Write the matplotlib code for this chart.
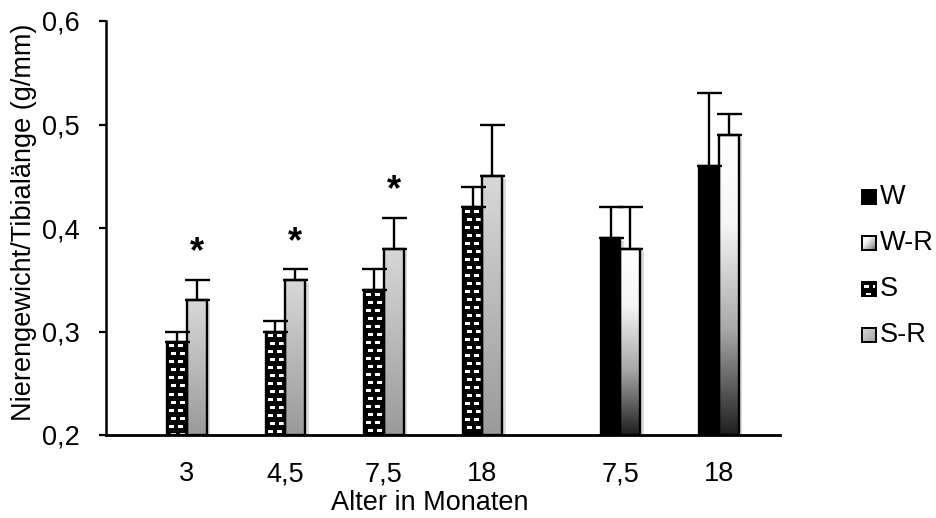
import numpy as np
import matplotlib
matplotlib.use("Agg")
import matplotlib.pyplot as plt
from matplotlib.patches import Rectangle
from matplotlib.colors import LinearSegmentedColormap
import matplotlib.patheffects as pe

plt.rcParams['font.family'] = ['Liberation Sans', 'DejaVu Sans']

# Data
categories = ['3', '4,5', '7,5', '18', '7,5', '18']
cat_pos = [0, 1, 2, 3, 4.4, 5.4]
series_names = ['W', 'W-R', 'S', 'S-R']

# S / S-R groups (first four categories)
S_vals = [0.29, 0.30, 0.34, 0.42]
S_err = [0.01, 0.01, 0.02, 0.02]
SR_vals = [0.33, 0.35, 0.38, 0.45]
SR_err = [0.02, 0.01, 0.03, 0.05]
SR_sig = ['*', '*', '*', '']

# W / W-R groups (last two categories)
W_vals = [0.39, 0.46]
W_err = [0.03, 0.07]
WR_vals = [0.38, 0.49]
WR_err = [0.04, 0.02]

FS = 19.5

W_, H_ = 937, 518
fig = plt.figure(figsize=(W_ / 100, H_ / 100), dpi=100)
ax = fig.add_axes([106 / W_, 1 - 435 / H_, (780 - 106) / W_, (435 - 21) / H_])

YMIN, YMAX = 0.2, 0.6
ax.set_ylim(YMIN, YMAX)
ax.set_xlim(-0.82, 6.02)

BW = 0.2

cmap_wr = LinearSegmentedColormap.from_list(
    'wr', [(0, '#ffffff'), (0.3, '#f6f6f6'), (0.65, '#a8a8a8'), (1, '#1e1e1e')])
cmap_sr = LinearSegmentedColormap.from_list(
    'sr', [(0, '#d8d8d8'), (1, '#9a9a9a')])


def px_size(x0, x1, y0, y1):
    p0 = ax.transData.transform((x0, y0))
    p1 = ax.transData.transform((x1, y1))
    return max(int(round(abs(p1[0] - p0[0]))), 1), max(int(round(abs(p1[1] - p0[1]))), 1)


def brick_pattern(w, h):
    img = np.zeros((h, w))
    period = 8
    for r in range(0, h, period):
        row = r // period
        off = 2 if row % 2 == 0 else 4
        for cx in (off, off + 9):
            img[r + 3:r + 6, cx:cx + 5] = 1
    return img


def draw_bar(x, val, style):
    x0, x1 = x - BW / 2, x + BW / 2
    base = Rectangle((x0, YMIN), BW, val - YMIN, facecolor='white', edgecolor='none', zorder=2)
    base.set_path_effects([pe.SimplePatchShadow(offset=(2.5, -2), shadow_rgbFace='#999999', alpha=0.35),
                           pe.Normal()])
    ax.add_patch(base)
    clip = Rectangle((x0, YMIN), BW, val - YMIN, transform=ax.transData, facecolor='none', edgecolor='none')
    ax.add_patch(clip)
    if style == 'W':
        fill = Rectangle((x0, YMIN), BW, val - YMIN, facecolor='black', edgecolor='none', zorder=2.5)
        ax.add_patch(fill)
    elif style == 'S':
        w, h = px_size(x0, x1, YMIN, val)
        im = ax.imshow(brick_pattern(w, h), cmap='gray', vmin=0, vmax=1, extent=(x0, x1, YMIN, val),
                       origin='upper', aspect='auto', interpolation='nearest', zorder=2.5)
        im.set_clip_path(clip)
    else:
        grad = np.linspace(0, 1, 256).reshape(-1, 1)
        cm = cmap_wr if style == 'W-R' else cmap_sr
        im = ax.imshow(grad, cmap=cm, vmin=0, vmax=1, extent=(x0, x1, YMIN, val),
                       origin='upper', aspect='auto', interpolation='bilinear', zorder=2.5)
        im.set_clip_path(clip)
    edge = Rectangle((x0, YMIN), BW, val - YMIN, facecolor='none', edgecolor='black', linewidth=1.7, zorder=3)
    ax.add_patch(edge)


def draw_err(x, val, err):
    ax.errorbar([x], [val], yerr=[[0], [err]], fmt='none', ecolor='black', elinewidth=1.7,
                capsize=9, capthick=1.7, zorder=4)


for i in range(4):
    xl = cat_pos[i] - BW / 2
    xr = cat_pos[i] + BW / 2
    draw_bar(xl, S_vals[i], 'S')
    draw_bar(xr, SR_vals[i], 'S-R')
    draw_err(xl, S_vals[i], S_err[i])
    draw_err(xr, SR_vals[i], SR_err[i])
    if SR_sig[i]:
        ax.text(xr, SR_vals[i] + SR_err[i] + 0.026, SR_sig[i], ha='center', va='center',
                fontsize=26, fontweight='bold')

for j in range(2):
    p = cat_pos[4 + j]
    xl = p - BW / 2
    xr = p + BW / 2
    draw_bar(xl, W_vals[j], 'W')
    draw_bar(xr, WR_vals[j], 'W-R')
    draw_err(xl, W_vals[j], W_err[j])
    draw_err(xr, WR_vals[j], WR_err[j])

# Axes styling
for s in ('top', 'right'):
    ax.spines[s].set_visible(False)
ax.spines['left'].set_linewidth(1.8)
ax.spines['bottom'].set_linewidth(2.0)
ax.set_yticks([0.2, 0.3, 0.4, 0.5, 0.6])
ax.set_yticklabels(['0,2', '0,3', '0,4', '0,5', '0,6'], fontsize=FS)
ax.tick_params(axis='y', length=5, width=1.6, pad=14)
ax.set_xticks(cat_pos)
ax.set_xticklabels(categories, fontsize=FS)
ax.tick_params(axis='x', length=0, pad=19)

fig.text(24 / W_, 1 - 222 / H_, 'Nierengewicht/Tibialänge (g/mm)', rotation=90,
         ha='center', va='center', fontsize=FS)
fig.text(430 / W_, 1 - 503 / H_, 'Alter in Monaten', ha='center', va='center', fontsize=FS)

# Legend
leg_y = [197, 243, 289, 335]
for name, y in zip(series_names, leg_y):
    lax = fig.add_axes([862 / W_, 1 - (y + 7) / H_, 14 / W_, 14 / H_])
    lax.set_xticks([])
    lax.set_yticks([])
    for s in lax.spines.values():
        s.set_linewidth(1.4)
    if name == 'W':
        lax.set_facecolor('black')
    elif name == 'S':
        lax.imshow(brick_pattern(14, 14), cmap='gray', vmin=0, vmax=1, aspect='auto',
                   interpolation='nearest')
    else:
        g = np.add.outer(np.linspace(0, 1, 32), np.linspace(0, 1, 32)) / 2
        cm = cmap_wr if name == 'W-R' else cmap_sr
        lax.imshow(g, cmap=cm, vmin=0, vmax=1.15, aspect='auto', interpolation='bilinear')
    fig.text(880 / W_, 1 - y / H_, name, ha='left', va='center', fontsize=FS)

fig.savefig('out.png', dpi=100)
